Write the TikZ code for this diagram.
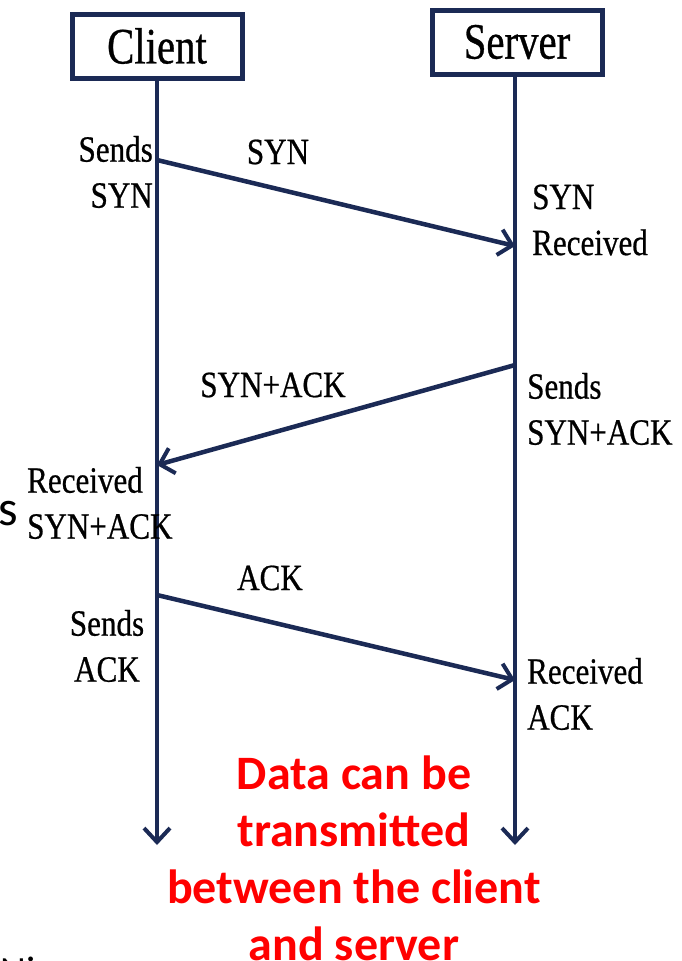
\documentclass[tikz,border=0pt]{standalone}
\usepackage{fontspec}
\setmainfont{Liberation Serif}
\newfontfamily\labelfont[FakeStretch=0.84,FakeBold=0.6]{Liberation Serif}
\newfontfamily\hostfont[FakeStretch=0.8,FakeBold=0.6]{Liberation Serif}
\newfontfamily\notefont{Carlito}
\usetikzlibrary{arrows.meta}
\definecolor{navy}{HTML}{1B2A55}
\definecolor{notered}{HTML}{FF0000}
\tikzset{
  hostbox/.style={draw=navy, line width=5pt, minimum width=170pt, minimum height=64pt,
    font=\hostfont\fontsize{51}{54}\selectfont, inner sep=0pt},
  lifeline/.style={draw=navy, line width=4pt, -{Straight Barb[length=14pt,width=26pt,line width=4pt]}},
  msg/.style={draw=navy, line width=4.5pt, -{Straight Barb[length=13pt,width=26pt,line width=4pt]}},
  lbl/.style={font=\labelfont\fontsize{37}{46}\selectfont, inner sep=0pt, text=black},
  note/.style={font=\notefont\bfseries\fontsize{48}{57}\selectfont, text=notered, align=center, inner sep=0pt}
}
\begin{document}
\begin{tikzpicture}[x=1pt,y=-1pt]
  \useasboundingbox (0,0) rectangle (682,961);
  \clip (0,0) rectangle (682,961);
  \fill[white] (0,0) rectangle (682,961);

  % host boxes
  \node[hostbox] (client) at (157,46) {Client};
  \node[hostbox] (server) at (517,42) {Server};

  % lifeline ends and message anchor points
  \coordinate (cend) at (157,845);
  \coordinate (send) at (515,845);
  \coordinate (c1) at (157,160);
  \coordinate (s1) at (515,246);
  \coordinate (s2) at (515,365);
  \coordinate (c2) at (157,465);
  \coordinate (c3) at (157,595);
  \coordinate (s3) at (515,680);

  \draw[lifeline] (client.south -| cend) -- (cend);
  \draw[lifeline] (server.south -| send) -- (send);

  % handshake messages
  \draw[msg] (c1) -- (s1);
  \draw[msg] (s2) -- (c2);
  \draw[msg] (c3) -- (s3);

  \node[lbl] (m1) at (278,152) {SYN};
  \node[lbl] (m2) at (273,385) {SYN+ACK};
  \node[lbl] (m3) at (270,578) {ACK};

  % state labels
  \node[lbl, align=right, anchor=east] (cs1) at (153,172) {Sends\\SYN};
  \node[lbl, align=left, anchor=west] (sr1) at (532,220) {SYN\\Received};
  \node[lbl, align=left, anchor=west] (ss2) at (527,409) {Sends\\SYN+ACK};
  \node[lbl, align=left, anchor=west] (cr2) at (27,503) {Received\\SYN+ACK};
  \node[lbl, align=center] (cs3) at (107,646) {Sends\\ACK};
  \node[lbl, align=left, anchor=west] (sr3) at (527,694) {Received\\ACK};

  % trailing fragments at the left edge
  \node[font=\notefont\fontsize{50}{50}\selectfont, inner sep=0pt] (frag1) at (8,514) {s};
  \node[font=\notefont\fontsize{40}{40}\selectfont, inner sep=0pt, anchor=north west] (frag2) at (0,957) {Ni};

  % closing note
  \node[note] (data) at (354,858) {Data can be\\transmitted\\between the client\\and server};
\end{tikzpicture}
\end{document}
